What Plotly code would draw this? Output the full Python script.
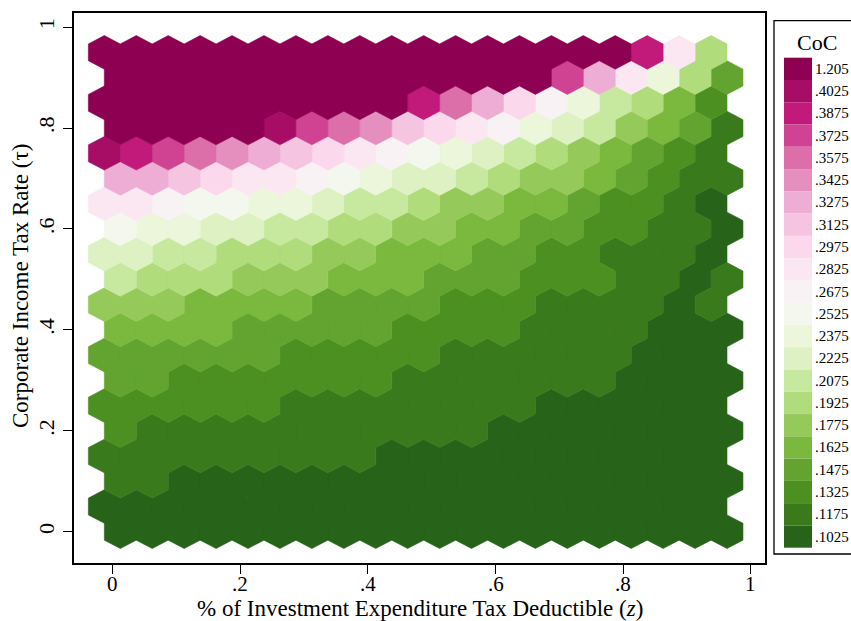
import plotly.graph_objects as go

# ---------------- data ----------------
coc_levels = [0.1025, 0.1175, 0.1325, 0.1475, 0.1625, 0.1775, 0.1925, 0.2075,
              0.2225, 0.2375, 0.2525, 0.2675, 0.2825, 0.2975, 0.3125, 0.3275,
              0.3425, 0.3575, 0.3725, 0.3875, 0.4025, 1.205]
legend_labels = [".1025", ".1175", ".1325", ".1475", ".1625", ".1775", ".1925",
                 ".2075", ".2225", ".2375", ".2525", ".2675", ".2825", ".2975",
                 ".3125", ".3275", ".3425", ".3575", ".3725", ".3875", ".4025",
                 "1.205"]

# hexagon row centres (tau) and column centres (z) for the two row offsets
tau_rows = [0.00, 0.05, 0.10, 0.15, 0.20, 0.25, 0.30, 0.35, 0.40, 0.45,
            0.50, 0.55, 0.60, 0.65, 0.70, 0.75, 0.80, 0.85, 0.90, 0.95]
z_even = [0.0125, 0.0625, 0.1125, 0.1625, 0.2125, 0.2625, 0.3125, 0.3625,
          0.4125, 0.4625, 0.5125, 0.5625, 0.6125, 0.6625, 0.7125, 0.7625,
          0.8125, 0.8625, 0.9125, 0.9625]
z_odd = [-0.0125, 0.0375, 0.0875, 0.1375, 0.1875, 0.2375, 0.2875, 0.3375,
         0.3875, 0.4375, 0.4875, 0.5375, 0.5875, 0.6375, 0.6875, 0.7375,
         0.7875, 0.8375, 0.8875, 0.9375]

# CoC bin index of every hexagon (row = tau_rows[i], bottom row first)
coc_bin = [
    [0, 0, 0, 0, 0, 0, 0, 0, 0, 0, 0, 0, 0, 0, 0, 0, 0, 0, 0, 0],
    [0, 0, 0, 0, 0, 0, 0, 0, 0, 0, 0, 0, 0, 0, 0, 0, 0, 0, 0, 0],
    [1, 1, 0, 0, 0, 0, 0, 0, 0, 0, 0, 0, 0, 0, 0, 0, 0, 0, 0, 0],
    [1, 1, 1, 1, 1, 1, 1, 1, 1, 0, 0, 0, 0, 0, 0, 0, 0, 0, 0, 0],
    [2, 1, 1, 1, 1, 1, 1, 1, 1, 1, 1, 1, 0, 0, 0, 0, 0, 0, 0, 0],
    [2, 2, 2, 2, 2, 2, 1, 1, 1, 1, 1, 1, 1, 1, 0, 0, 0, 0, 0, 0],
    [3, 3, 2, 2, 2, 2, 2, 2, 2, 1, 1, 1, 1, 1, 1, 1, 0, 0, 0, 0],
    [3, 3, 3, 3, 3, 3, 2, 2, 2, 2, 2, 1, 1, 1, 1, 1, 1, 0, 0, 0],
    [4, 4, 4, 4, 3, 3, 3, 3, 3, 2, 2, 2, 2, 1, 1, 1, 1, 0, 0, 0],
    [5, 5, 5, 4, 4, 4, 4, 3, 3, 3, 3, 2, 2, 2, 1, 1, 1, 1, 0, 1],
    [7, 6, 6, 6, 5, 5, 5, 4, 4, 4, 3, 3, 3, 2, 2, 2, 1, 1, 0, 1],
    [8, 8, 7, 7, 6, 6, 6, 5, 5, 4, 4, 4, 3, 3, 2, 2, 1, 1, 1, 0],
    [10, 9, 9, 8, 8, 7, 7, 6, 6, 5, 5, 4, 4, 3, 3, 2, 2, 1, 1, 0],
    [12, 12, 11, 10, 10, 9, 9, 8, 7, 7, 6, 5, 5, 4, 4, 3, 2, 2, 1, 0],
    [15, 15, 14, 13, 12, 12, 11, 10, 9, 8, 8, 7, 6, 5, 5, 4, 3, 2, 1, 1],
    [20, 19, 18, 17, 16, 15, 14, 13, 12, 11, 10, 9, 8, 7, 6, 5, 4, 3, 2, 1],
    [21, 21, 21, 21, 21, 20, 18, 17, 16, 14, 13, 12, 11, 9, 8, 7, 5, 4, 3, 1],
    [21, 21, 21, 21, 21, 21, 21, 21, 21, 21, 19, 17, 15, 13, 11, 9, 7, 6, 4, 2],
    [21, 21, 21, 21, 21, 21, 21, 21, 21, 21, 21, 21, 21, 21, 18, 15, 12, 9, 6, 3],
    [21, 21, 21, 21, 21, 21, 21, 21, 21, 21, 21, 21, 21, 21, 21, 21, 21, 19, 12, 6],
]

ticks = [0, 0.2, 0.4, 0.6, 0.8, 1]
tick_text = ["0", ".2", ".4", ".6", ".8", "1"]
x_title = "% of Investment Expenditure Tax Deductible (<i>z</i>)"
y_title = "Corporate Income Tax Rate (τ)"

# ---------------- palette (PiYG, interpolated to 22 classes) ----------------
piyg = ["#276419", "#4d9221", "#7fbc41", "#b8e186", "#e6f5d0", "#f7f7f7",
        "#fde0ef", "#f1b6da", "#de77ae", "#c51b7d", "#8e0152"]


def hex2rgb(h):
    return tuple(int(h[i:i + 2], 16) for i in (1, 3, 5))


def palette(n):
    out = []
    m = len(piyg) - 1
    for i in range(n):
        t = i * m / (n - 1)
        a = min(int(t), m - 1)
        f = t - a
        c0, c1 = hex2rgb(piyg[a]), hex2rgb(piyg[a + 1])
        rgb = [round(c0[k] + f * (c1[k] - c0[k])) for k in range(3)]
        out.append("#%02x%02x%02x" % tuple(rgb))
    return out


colors = palette(len(coc_levels))

# ---------------- hexagons ----------------
HW = 0.025       # half width (z units)
HH = 0.05 / 1.5  # half height (tau units)

fig = go.Figure()
polys = {i: ([], []) for i in range(len(coc_levels))}
for r, tau in enumerate(tau_rows):
    zc = z_even if r % 2 == 0 else z_odd
    for c, z in enumerate(zc):
        b = coc_bin[r][c]
        xs, ys = polys[b]
        xs += [z, z + HW, z + HW, z, z - HW, z - HW, z, None]
        ys += [tau + HH, tau + HH / 2, tau - HH / 2, tau - HH,
               tau - HH / 2, tau + HH / 2, tau + HH, None]

for b, (xs, ys) in polys.items():
    if not xs:
        continue
    fig.add_trace(go.Scatter(
        x=xs, y=ys, mode="lines", fill="toself", fillcolor=colors[b],
        line=dict(color=colors[b], width=0.6), hoverinfo="skip",
        showlegend=False, name=legend_labels[b]))

# ---------------- layout ----------------
W, H = 851, 621
L, R, T, B = 74, 86, 13, 58
pw, ph = W - L - R, H - T - B


def px_x(px):
    return (px - L) / pw


def px_y(py):
    return (H - B - py) / ph


FONT = "Liberation Serif, Times New Roman, serif"

fig.update_layout(
    width=W, height=H, autosize=False,
    margin=dict(l=L, r=R, t=T, b=B),
    paper_bgcolor="white", plot_bgcolor="white",
    font=dict(family=FONT, size=22, color="black"),
    xaxis=dict(range=[-0.060, 1.022], tickvals=ticks, showticklabels=False,
               showgrid=False, zeroline=False, showline=True, mirror=True,
               linecolor="black", linewidth=1.8, ticks="outside", ticklen=9,
               tickwidth=1.3, tickcolor="black", automargin=False),
    yaxis=dict(range=[-0.062, 1.028], tickvals=ticks, ticktext=tick_text,
               showgrid=False, zeroline=False, showline=True, mirror=True,
               linecolor="black", linewidth=1.8, ticks="outside", ticklen=9,
               tickwidth=1.3, tickcolor="black", tickangle=-90,
               automargin=False,
               tickfont=dict(family=FONT, size=22)),
)

# ---------------- tick labels, axis titles and legend ----------------
annotations = [
    dict(text=x_title, xref="paper", yref="paper", x=px_x(419.5), y=px_y(608),
         xanchor="center", yanchor="middle", showarrow=False,
         font=dict(family=FONT, size=23)),
    dict(text=y_title, xref="paper", yref="paper", x=px_x(20), y=px_y(286),
         xanchor="center", yanchor="middle", showarrow=False, textangle=-90,
         font=dict(family=FONT, size=23)),
    dict(text="CoC", xref="paper", yref="paper", x=px_x(817), y=px_y(42),
         xanchor="center", yanchor="middle", showarrow=False,
         font=dict(family=FONT, size=22)),
]
for tv, tt in zip(ticks, tick_text):
    annotations.append(dict(text=tt, xref="x", yref="paper", x=tv,
                            y=px_y(584), xanchor="center", yanchor="middle",
                            showarrow=False, font=dict(family=FONT, size=21)))

shapes = [dict(type="rect", xref="paper", yref="paper",
               x0=px_x(774), x1=px_x(853), y0=px_y(554), y1=px_y(20.7),
               line=dict(color="black", width=1.3), fillcolor="white",
               layer="below")]
n = len(coc_levels)
top, bot = 57.7, 547.7
step = (bot - top) / n
for k in range(n):
    b = n - 1 - k  # top entry = highest bin
    y0 = top + k * step
    shapes.append(dict(type="rect", xref="paper", yref="paper",
                       x0=px_x(784), x1=px_x(812),
                       y0=px_y(y0 + step), y1=px_y(y0),
                       line=dict(width=0), fillcolor=colors[b]))
    annotations.append(dict(text=legend_labels[b], xref="paper", yref="paper",
                            x=px_x(812.5), y=px_y(y0 + step / 2),
                            xanchor="left", yanchor="middle", showarrow=False,
                            font=dict(family=FONT, size=15)))
fig.update_layout(shapes=shapes, annotations=annotations)

fig.write_html("out.html", config={"displayModeBar": False},
               post_script="document.body.style.margin='0';"
                           "document.body.style.overflow='hidden';")
